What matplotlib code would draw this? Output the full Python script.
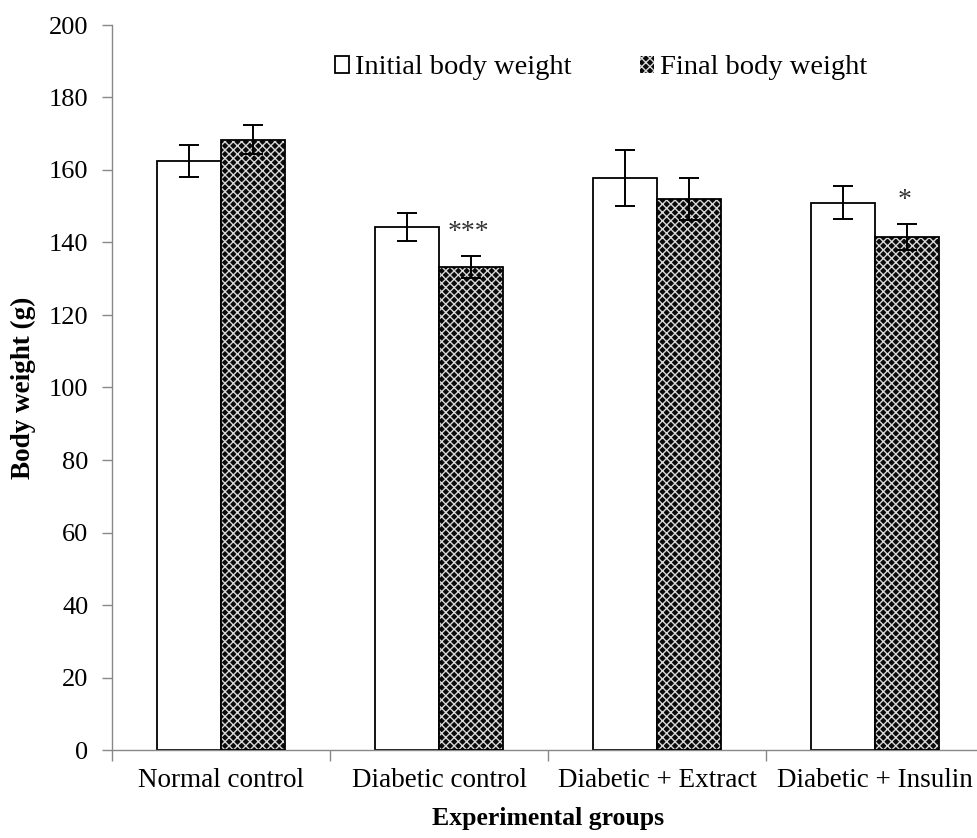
import matplotlib
matplotlib.use("Agg")
import matplotlib.pyplot as plt
import numpy as np
from matplotlib.patches import Patch

categories = ["Normal control", "Diabetic control", "Diabetic + Extract", "Diabetic + Insulin"]
initial = [162.5, 144.3, 157.8, 151.0]
initial_err = [4.4, 3.8, 7.7, 4.6]
final = [168.3, 133.2, 152.0, 141.5]
final_err = [4.0, 3.0, 5.8, 3.6]
stars = ["", "***", "", "*"]
yticks = [0, 20, 40, 60, 80, 100, 120, 140, 160, 180, 200]

plt.rcParams['font.family'] = ['Liberation Serif', 'DejaVu Serif']

W, H = 977, 838
fig = plt.figure(figsize=(W/100, H/100), dpi=100)
ax = fig.add_axes([112/W, 88/H, (984-112)/W, 725/H])

x = np.arange(len(categories))
bw = 0.292

ax.bar(x - bw/2, initial, bw, color='white', edgecolor='black', linewidth=1.3, zorder=2)
ax.errorbar(x - bw/2, initial, yerr=initial_err, fmt='none', ecolor='black',
            elinewidth=1.4, capsize=7, capthick=1.4, zorder=4)

ax.bar(x + bw/2, final, bw, color='#0a0a0a', edgecolor='#d8d8d8', hatch='xxxx',
       linewidth=0, zorder=2)
ax.bar(x + bw/2, final, bw, fill=False, edgecolor='black', linewidth=1.3, zorder=3)
ax.errorbar(x + bw/2, final, yerr=final_err, fmt='none', ecolor='black',
            elinewidth=1.4, capsize=7, capthick=1.4, zorder=4)

for i, s in enumerate(stars):
    if s:
        ax.text(x[i] + bw/2 - 0.01, final[i] + final_err[i] + 3, s, ha='center', va='bottom',
                fontsize=20, color='#333333')

ax.set_xlim(-0.5, len(categories) - 0.5)
ax.set_ylim(0, 200)
ax.set_yticks(yticks)
ax.tick_params(axis='y', labelsize=19, length=7, width=1, color='#888888', pad=10)
ax.set_xticks(x)
ax.set_xticklabels(categories, fontsize=19.5)
ax.set_xticks(np.arange(len(categories)) - 0.5, minor=True)
ax.tick_params(axis='x', which='major', length=0, pad=13)
ax.tick_params(axis='x', which='minor', length=8, width=1, color='#888888')

for s in ['top', 'right']:
    ax.spines[s].set_visible(False)
for s in ['left', 'bottom']:
    ax.spines[s].set_color('#888888')
    ax.spines[s].set_linewidth(1)

ax.set_ylabel("Body weight (g)", fontsize=19.5, fontweight='bold', labelpad=9)
ax.set_xlabel("Experimental groups", fontsize=18.5, fontweight='bold', labelpad=10)

handles = [Patch(facecolor='white', edgecolor='black', linewidth=1.3),
           Patch(facecolor='#0a0a0a', edgecolor='#d8d8d8', hatch='xxxx', linewidth=0)]
leg = ax.legend(handles, ["Initial body weight", "Final body weight"], ncol=2,
                loc='center', bbox_to_anchor=(601/W, 1 - 68/H), bbox_transform=fig.transFigure,
                frameon=False, fontsize=20.5, handlelength=0.5, handleheight=0.5,
                handletextpad=0.2, columnspacing=2.4, borderpad=0)

fig.savefig("out.png", dpi=100)
